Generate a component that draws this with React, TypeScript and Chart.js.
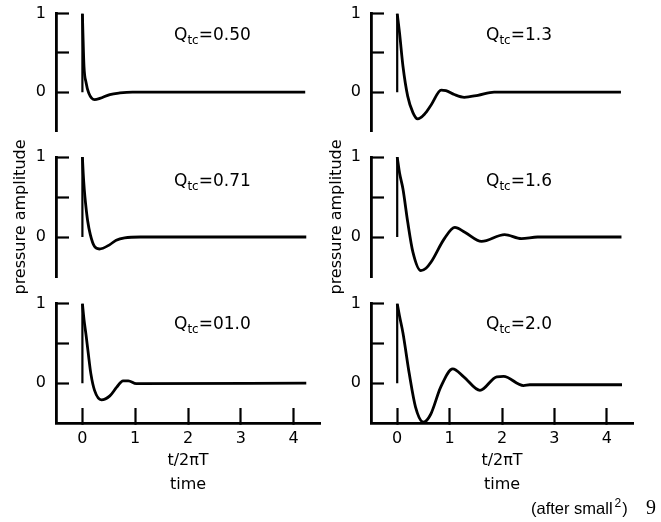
import React, { useEffect, useRef } from 'react';
import { Chart, registerables } from 'chart.js';

Chart.register(...registerables);

// ---- tick values / labels ----
const xTickValues = [0, 1, 2, 3, 4];
const xTickLabels = ['0', '1', '2', '3', '4'];
const yTickValues = [0, 0.5, 1];
const yTickLabels = ['0', '', '1'];
const xTitleLines = ['t/2\u03c0T', 'time'];
const yTitleText = 'pressure amplitude';

// ---- step edge at t = 0 ----
const stepT = [0, 0];
const stepA = [0, 1];

// ---- Q labels ----
const qValues = ['0.50', '1.3', '0.71', '1.6', '01.0', '2.0'];

// ---- series: time (t/2πT) and amplitude ----
const tQ050 = [0, 0.01, 0.03, 0.07, 0.12, 0.23, 0.33, 0.52, 0.71, 0.95, 4.22];
const aQ050 = [1, 0.75, 0.33, 0.12, -0.01, -0.095, -0.08, -0.03, -0.01, 0, 0];

const tQ13 = [0, 0.045, 0.11, 0.2, 0.3, 0.39, 0.52, 0.65, 0.84, 0.93, 1.09, 1.28, 1.54, 1.85, 4.27];
const aQ13 = [1, 0.75, 0.33, -0.05, -0.26, -0.34, -0.28, -0.16, 0.025, 0.02, -0.03, -0.065, -0.04, 0, 0];

const tQ071 = [0, 0.015, 0.035, 0.06, 0.1, 0.15, 0.23, 0.32, 0.52, 0.64, 0.8, 1.1, 4.24];
const aQ071 = [1, 0.8, 0.6, 0.42, 0.2, 0.03, -0.12, -0.15, -0.095, -0.04, -0.01, 0, 0];

const tQ16 = [0, 0.045, 0.11, 0.2, 0.3, 0.45, 0.55, 0.65, 0.9, 1.1, 1.29, 1.61, 2.05, 2.37, 2.68, 4.28];
const aQ16 = [1, 0.8, 0.6, 0.19, -0.19, -0.42, -0.39, -0.31, -0.02, 0.12, 0.06, -0.055, 0.03, -0.02, 0, 0];

const tQ10 = [0, 0.03, 0.07, 0.11, 0.16, 0.23, 0.36, 0.52, 0.65, 0.77, 0.87, 1.02, 4.24];
const aQ10 = [1, 0.8, 0.6, 0.38, 0.12, -0.09, -0.21, -0.16, -0.05, 0.03, 0.03, -0.005, 0];

const tQ20 = [0, 0.045, 0.11, 0.23, 0.35, 0.5, 0.64, 0.83, 1.06, 1.27, 1.58, 1.9, 2.03, 2.41, 2.53, 4.29];
const aQ20 = [1, 0.84, 0.63, 0.12, -0.3, -0.49, -0.39, -0.05, 0.18, 0.08, -0.09, 0.08, 0.085, -0.03, -0.02, -0.02];

const seriesT = [tQ050, tQ13, tQ071, tQ16, tQ10, tQ20];
const seriesA = [aQ050, aQ13, aQ071, aQ16, aQ10, aQ20];

// ---- layout (not data) ----
const FONT = 'DejaVu Sans';
const cols = [
  { left: 0, width: 330, axisW: 56, padRight: 10, titlePad: 11, qLeft: 174 },
  { left: 320, width: 336, axisW: 51, padRight: 23, titlePad: 6.8, qLeft: 486 },
];
const rows = [
  { top: 0, height: 150, padTop: 13.5, padBottom: 18.5, showX: false, showTitle: false, qTop: 26 },
  { top: 130, height: 175, padTop: 27, padBottom: 28, showX: false, showTitle: true, qTop: 172 },
  { top: 290, height: 215, padTop: 13.5, padBottom: 0, showX: true, showTitle: false, qTop: 315 },
];

function Panel({ idx }: { idx: number }) {
  const ref = useRef<HTMLCanvasElement | null>(null);
  const col = cols[idx % 2];
  const row = rows[Math.floor(idx / 2)];

  useEffect(() => {
    const t = seriesT[idx];
    const a = seriesA[idx];
    const chart = new Chart(ref.current as HTMLCanvasElement, {
      type: 'line',
      data: {
        datasets: [
          {
            data: stepT.map((x, i) => ({ x, y: stepA[i] })),
            borderColor: '#000',
            borderWidth: 2.2,
            pointRadius: 0,
            tension: 0,
          },
          {
            data: t.map((x, i) => ({ x, y: a[i] })),
            borderColor: '#000',
            borderWidth: 2.8,
            pointRadius: 0,
            cubicInterpolationMode: 'monotone',
          },
        ],
      },
      options: {
        responsive: false,
        animation: false,
        devicePixelRatio: 1,
        events: [],
        layout: { padding: { top: row.padTop, bottom: row.padBottom, left: 0, right: col.padRight } },
        plugins: { legend: { display: false }, tooltip: { enabled: false } },
        scales: {
          x: {
            type: 'linear',
            min: -0.5,
            max: 4.5,
            display: row.showX,
            afterBuildTicks: (s: any) => {
              s.ticks = xTickValues.map((v) => ({ value: v }));
            },
            ticks: {
              callback: (v: any) => xTickLabels[xTickValues.indexOf(Number(v))] ?? '',
              padding: 21,
              color: '#000',
              font: { family: FONT, size: 16 },
              maxRotation: 0,
              autoSkip: false,
            },
            grid: {
              drawOnChartArea: false,
              drawTicks: true,
              tickLength: -15,
              tickWidth: 2.2,
              tickColor: '#000',
              color: '#000',
            },
            border: { display: true, color: '#000', width: 2.8 },
            title: {
              display: true,
              text: xTitleLines,
              color: '#000',
              font: { family: FONT, size: 16, lineHeight: 1.5 },
              padding: { top: 0, bottom: 8.5 },
            },
            afterFit: (s: any) => {
              if (row.showX) {
                s.height = 82;
              }
              s.paddingLeft = 0;
              s.paddingRight = 0;
            },
          },
          y: {
            type: 'linear',
            min: -0.5,
            max: 1,
            afterBuildTicks: (s: any) => {
              s.ticks = yTickValues.map((v) => ({ value: v }));
            },
            ticks: {
              callback: (v: any) => yTickLabels[yTickValues.indexOf(Number(v))] ?? '',
              padding: 23,
              color: '#000',
              font: { family: FONT, size: 16 },
              autoSkip: false,
            },
            grid: {
              drawOnChartArea: false,
              drawTicks: true,
              tickLength: -13,
              tickWidth: 2.2,
              tickColor: '#000',
              color: '#000',
            },
            border: { display: true, color: '#000', width: 2.8 },
            title: {
              display: row.showTitle,
              text: yTitleText,
              color: '#000',
              font: { family: FONT, size: 16, lineHeight: 1.2 },
              padding: { top: col.titlePad, bottom: 0 },
            },
            afterFit: (s: any) => {
              s.width = col.axisW;
              s.paddingTop = 0;
              s.paddingBottom = 0;
            },
          },
        },
      },
    } as any);
    return () => chart.destroy();
  }, [idx]);

  return (
    <canvas
      ref={ref}
      width={col.width}
      height={row.height}
      style={{ position: 'absolute', left: col.left, top: row.top, width: col.width, height: row.height }}
    />
  );
}

function QLabel({ idx }: { idx: number }) {
  const col = cols[idx % 2];
  const row = rows[Math.floor(idx / 2)];
  return (
    <div
      style={{
        position: 'absolute',
        left: col.qLeft,
        top: row.qTop,
        fontFamily: FONT,
        fontSize: 17,
        lineHeight: '17px',
        color: '#000',
        whiteSpace: 'nowrap',
      }}
    >
      Q
      <span style={{ fontSize: 12, position: 'relative', top: 4 }}>tc</span>
      {'=' + qValues[idx]}
    </div>
  );
}

export default function App() {
  const idxs = [0, 1, 2, 3, 4, 5];
  return (
    <div
      style={{
        position: 'absolute',
        left: 0,
        top: 0,
        width: 661,
        height: 522,
        background: '#fff',
        overflow: 'hidden',
      }}
    >
      {idxs.map((i) => (
        <Panel key={'p' + i} idx={i} />
      ))}
      {idxs.map((i) => (
        <QLabel key={'q' + i} idx={i} />
      ))}
      <div
        style={{
          position: 'absolute',
          left: 531,
          top: 500,
          fontFamily: 'Liberation Sans',
          fontSize: 16.5,
          lineHeight: '16.5px',
          color: '#000',
          whiteSpace: 'nowrap',
        }}
      >
        (after small
        <span style={{ fontSize: 12, position: 'relative', top: -7, marginLeft: 2, marginRight: 1 }}>2</span>)
      </div>
      <div
        style={{
          position: 'absolute',
          left: 646,
          top: 497,
          fontFamily: 'Liberation Serif',
          fontSize: 20,
          lineHeight: '20px',
          color: '#000',
        }}
      >
        9
      </div>
    </div>
  );
}
